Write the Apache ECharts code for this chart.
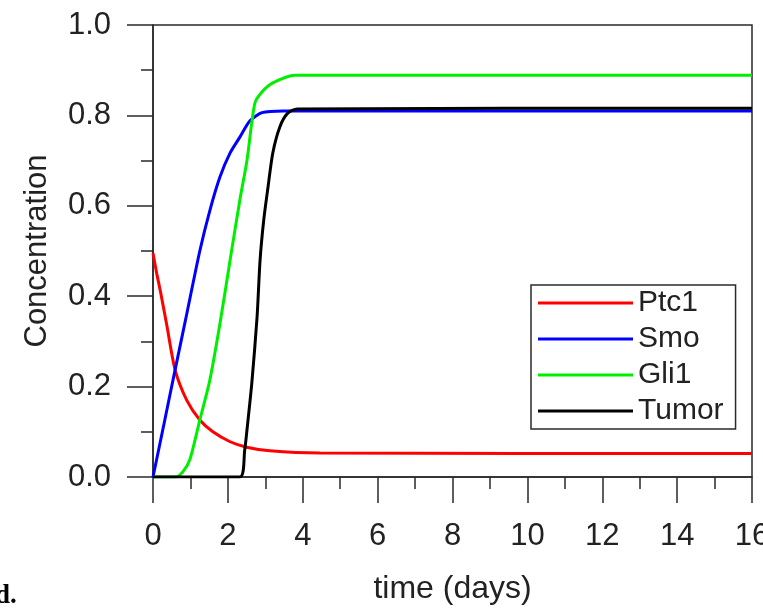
<!DOCTYPE html>
<html>
<head>
<meta charset="utf-8">
<script src="https://cdn.jsdelivr.net/npm/echarts@6/dist/echarts.min.js"></script>
<style>html,body{margin:0;padding:0;background:#fff}#c{width:763px;height:611px}</style>
</head>
<body>
<div id="c"></div>
<script>
// Data: [time (days), concentration]
const ptc1 = [[0,0.495],[0.1,0.45],[0.2,0.41],[0.37,0.335],[0.59,0.237],[0.9,0.17],[1.25,0.126],[1.6,0.1],[2.06,0.078],[2.5,0.066],[3.12,0.058],[4.46,0.053],[16,0.052]];
const smo = [[0,0],[0.3,0.12],[0.59,0.237],[0.9,0.36],[1.25,0.5],[1.52,0.59],[1.79,0.664],[2.06,0.717],[2.32,0.752],[2.59,0.788],[2.91,0.806],[3.47,0.81],[16,0.81]];
const gli1 = [[0,0],[0.6,0],[0.8,0.012],[0.99,0.04],[1.25,0.126],[1.52,0.215],[1.79,0.34],[2.06,0.48],[2.32,0.613],[2.51,0.70],[2.72,0.827],[2.91,0.852],[3.2,0.872],[3.79,0.889],[16,0.889]];
const tumor = [[0,0],[2.32,0],[2.45,0.06],[2.51,0.104],[2.64,0.208],[2.78,0.354],[2.86,0.48],[2.96,0.57],[3.07,0.64],[3.2,0.717],[3.39,0.775],[3.6,0.805],[3.85,0.814],[16,0.816]];
const seriesNames = ['Ptc1','Smo','Gli1','Tumor'];
const seriesColors = ['#ff0000','#0000ff','#00ee00','#000000'];
const xTicks = {min:0, max:16, interval:2};
const yTicks = {min:0, max:1, interval:0.2};

const FONT = "'Liberation Sans', Arial, sans-serif";
const AX = '#2a2a2a';
const chart = echarts.init(document.getElementById('c'), null, {renderer:'canvas'});
const seriesData = [ptc1, smo, gli1, tumor];
chart.setOption({
  animation:false,
  backgroundColor:'#ffffff',
  grid:{left:153, right:11, top:25, bottom:134, containLabel:false, outerBoundsMode:'none',
        show:true, borderColor:AX, borderWidth:1.5, backgroundColor:'transparent'},
  xAxis:{
    type:'value', min:xTicks.min, max:xTicks.max, interval:xTicks.interval,
    name:'time (days)', nameLocation:'middle', nameGap:96,
    nameTextStyle:{fontFamily:FONT, fontSize:32, color:'#222'},
    axisLine:{show:true, lineStyle:{color:AX, width:1.5}},
    axisTick:{show:true, inside:false, length:26, lineStyle:{color:AX, width:1.5}},
    minorTick:{show:true, splitNumber:2, length:12, lineStyle:{color:AX, width:1.5}},
    splitLine:{show:false},
    axisLabel:{fontFamily:FONT, fontSize:31, color:'#222', margin:44, showMaxLabel:true}
  },
  yAxis:{
    type:'value', min:yTicks.min, max:yTicks.max, interval:yTicks.interval,
    name:'Concentration', nameLocation:'middle', nameGap:100,
    nameTextStyle:{fontFamily:FONT, fontSize:31, color:'#222'},
    axisLine:{show:true, lineStyle:{color:AX, width:1.5}},
    axisTick:{show:true, inside:false, length:26, lineStyle:{color:AX, width:1.5}},
    minorTick:{show:true, splitNumber:2, length:12, lineStyle:{color:AX, width:1.5}},
    splitLine:{show:false},
    axisLabel:{fontFamily:FONT, fontSize:31, color:'#222', margin:42, formatter:v=>v.toFixed(1)}
  },
  legend:{
    orient:'vertical', left:531, top:285,
    data:seriesNames,
    icon:'rect', itemWidth:95, itemHeight:3, itemGap:6,
    padding:[3,12,3,7],
    backgroundColor:'#fff', borderColor:AX, borderWidth:1.5,
    textStyle:{fontFamily:FONT, fontSize:30, color:'#222', lineHeight:29}
  },
  graphic:[{type:'text', left:-5, top:583, style:{text:'d.', font:"bold 27px 'Liberation Serif', serif", fill:'#000'}}],
  series: seriesNames.map((n,i)=>({
    name:n, type:'line', data:seriesData[i], showSymbol:false, symbol:'none',
    smooth:0.25, lineStyle:{color:seriesColors[i], width:3}, itemStyle:{color:seriesColors[i]},
    z:2+i
  }))
});
</script>
</body>
</html>
